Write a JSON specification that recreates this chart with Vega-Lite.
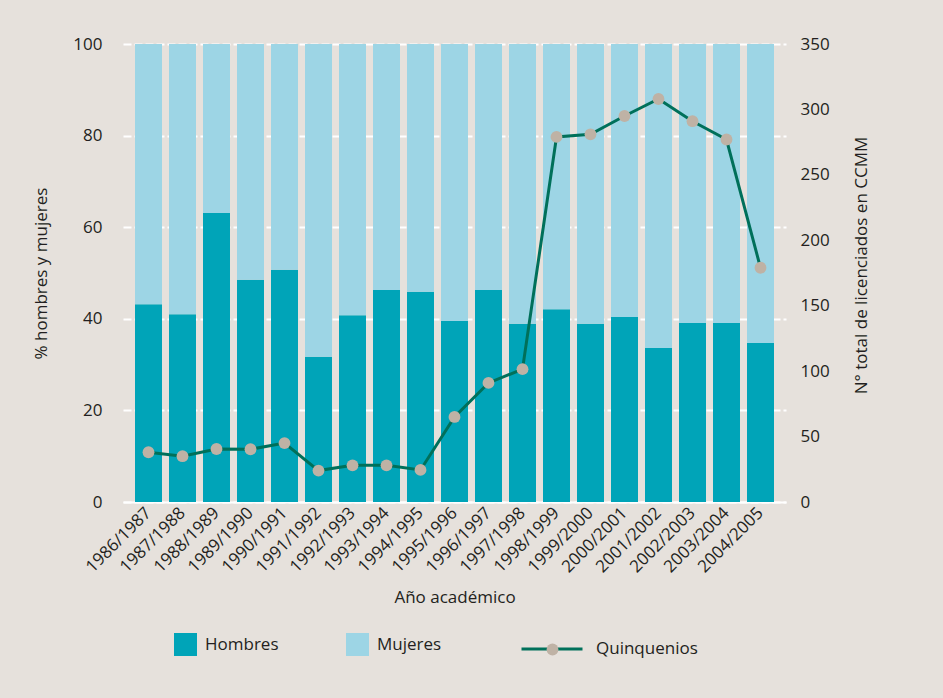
{
  "$schema": "https://vega.github.io/schema/vega-lite/v6.json",
  "autosize": {"type": "none"},
  "width": 663,
  "height": 458,
  "padding": {"left": 123, "top": 44, "right": 157, "bottom": 196},
  "background": "#e6e1dc",
  "config": {
    "font": "Open Sans",
    "view": {"stroke": null},
    "axis": {"labelFontSize": 17, "titleFontSize": 17, "titleFontWeight": "normal", "labelColor": "#231f20", "titleColor": "#231f20", "ticks": false, "domain": false},
    "legend": {"labelFontSize": 17, "labelColor": "#231f20", "padding": 0}
  },
  "datasets": {
    "pct": [
      {"curso": "1986/1987", "sexo": "Hombres", "pct": 43.2},
      {"curso": "1986/1987", "sexo": "Mujeres", "pct": 56.8},
      {"curso": "1987/1988", "sexo": "Hombres", "pct": 41.0},
      {"curso": "1987/1988", "sexo": "Mujeres", "pct": 59.0},
      {"curso": "1988/1989", "sexo": "Hombres", "pct": 63.1},
      {"curso": "1988/1989", "sexo": "Mujeres", "pct": 36.9},
      {"curso": "1989/1990", "sexo": "Hombres", "pct": 48.5},
      {"curso": "1989/1990", "sexo": "Mujeres", "pct": 51.5},
      {"curso": "1990/1991", "sexo": "Hombres", "pct": 50.7},
      {"curso": "1990/1991", "sexo": "Mujeres", "pct": 49.3},
      {"curso": "1991/1992", "sexo": "Hombres", "pct": 31.7},
      {"curso": "1991/1992", "sexo": "Mujeres", "pct": 68.3},
      {"curso": "1992/1993", "sexo": "Hombres", "pct": 40.8},
      {"curso": "1992/1993", "sexo": "Mujeres", "pct": 59.2},
      {"curso": "1993/1994", "sexo": "Hombres", "pct": 46.3},
      {"curso": "1993/1994", "sexo": "Mujeres", "pct": 53.7},
      {"curso": "1994/1995", "sexo": "Hombres", "pct": 45.9},
      {"curso": "1994/1995", "sexo": "Mujeres", "pct": 54.1},
      {"curso": "1995/1996", "sexo": "Hombres", "pct": 39.5},
      {"curso": "1995/1996", "sexo": "Mujeres", "pct": 60.5},
      {"curso": "1996/1997", "sexo": "Hombres", "pct": 46.3},
      {"curso": "1996/1997", "sexo": "Mujeres", "pct": 53.7},
      {"curso": "1997/1998", "sexo": "Hombres", "pct": 38.9},
      {"curso": "1997/1998", "sexo": "Mujeres", "pct": 61.1},
      {"curso": "1998/1999", "sexo": "Hombres", "pct": 42.1},
      {"curso": "1998/1999", "sexo": "Mujeres", "pct": 57.9},
      {"curso": "1999/2000", "sexo": "Hombres", "pct": 38.9},
      {"curso": "1999/2000", "sexo": "Mujeres", "pct": 61.1},
      {"curso": "2000/2001", "sexo": "Hombres", "pct": 40.4},
      {"curso": "2000/2001", "sexo": "Mujeres", "pct": 59.6},
      {"curso": "2001/2002", "sexo": "Hombres", "pct": 33.6},
      {"curso": "2001/2002", "sexo": "Mujeres", "pct": 66.4},
      {"curso": "2002/2003", "sexo": "Hombres", "pct": 39.1},
      {"curso": "2002/2003", "sexo": "Mujeres", "pct": 60.9},
      {"curso": "2003/2004", "sexo": "Hombres", "pct": 39.1},
      {"curso": "2003/2004", "sexo": "Mujeres", "pct": 60.9},
      {"curso": "2004/2005", "sexo": "Hombres", "pct": 34.7},
      {"curso": "2004/2005", "sexo": "Mujeres", "pct": 65.3}
    ],
    "quin": [
      {"curso": "1986/1987", "n": 38, "serie": "Quinquenios"},
      {"curso": "1987/1988", "n": 35, "serie": "Quinquenios"},
      {"curso": "1988/1989", "n": 40.5, "serie": "Quinquenios"},
      {"curso": "1989/1990", "n": 40.3, "serie": "Quinquenios"},
      {"curso": "1990/1991", "n": 45, "serie": "Quinquenios"},
      {"curso": "1991/1992", "n": 24, "serie": "Quinquenios"},
      {"curso": "1992/1993", "n": 28, "serie": "Quinquenios"},
      {"curso": "1993/1994", "n": 28, "serie": "Quinquenios"},
      {"curso": "1994/1995", "n": 24.5, "serie": "Quinquenios"},
      {"curso": "1995/1996", "n": 65, "serie": "Quinquenios"},
      {"curso": "1996/1997", "n": 91, "serie": "Quinquenios"},
      {"curso": "1997/1998", "n": 101.5, "serie": "Quinquenios"},
      {"curso": "1998/1999", "n": 279, "serie": "Quinquenios"},
      {"curso": "1999/2000", "n": 281, "serie": "Quinquenios"},
      {"curso": "2000/2001", "n": 295, "serie": "Quinquenios"},
      {"curso": "2001/2002", "n": 308, "serie": "Quinquenios"},
      {"curso": "2002/2003", "n": 291, "serie": "Quinquenios"},
      {"curso": "2003/2004", "n": 277, "serie": "Quinquenios"},
      {"curso": "2004/2005", "n": 179, "serie": "Quinquenios"}
    ]
  },
  "layer": [
    {
      "data": {"name": "pct"},
      "mark": {"type": "bar"},
      "encoding": {
        "x": {
          "field": "curso", "type": "nominal", "sort": null,
          "scale": {"paddingInner": 0.206, "paddingOuter": 0.353},
          "axis": {"title": "Año académico", "labelAngle": -45, "labelAlign": "right", "labelBaseline": "middle", "labelPadding": 8, "titlePadding": 14, "domain": true, "domainColor": "#ffffff", "domainWidth": 2}
        },
        "y": {
          "field": "pct", "type": "quantitative", "stack": "zero",
          "scale": {"domain": [0, 100], "nice": false},
          "axis": {"title": "% hombres y mujeres", "orient": "left", "values": [0, 20, 40, 60, 80, 100], "grid": true, "gridColor": "#ffffff", "gridWidth": 2, "gridDash": [8, 3], "labelPadding": 21, "titlePadding": 22}
        },
        "fill": {
          "field": "sexo", "type": "nominal",
          "scale": {"domain": ["Hombres", "Mujeres"], "range": ["#00a4b8", "#9dd5e5"]},
          "legend": {"title": null, "orient": "none", "legendX": 51, "legendY": 589, "direction": "horizontal", "symbolType": "square", "symbolSize": 529, "symbolStrokeWidth": 0, "labelOffset": 8, "columnPadding": 67}
        },
        "order": {"field": "sexo", "sort": "ascending"}
      }
    },
    {
      "data": {"name": "quin"},
      "encoding": {
        "x": {"field": "curso", "type": "nominal", "sort": null},
        "y": {
          "field": "n", "type": "quantitative",
          "scale": {"domain": [0, 350], "nice": false},
          "axis": {"title": "N° total de licenciados en CCMM", "orient": "right", "values": [0, 50, 100, 150, 200, 250, 300, 350], "grid": false, "labelPadding": 14, "titlePadding": 41, "titleAngle": -90, "titleY": 221}
        }
      },
      "layer": [
        {
          "mark": {"type": "line", "strokeWidth": 3},
          "encoding": {
            "stroke": {
              "field": "serie", "type": "nominal",
              "scale": {"range": ["#00705a"]},
              "legend": {"title": null, "orient": "none", "legendX": 397, "legendY": 573, "symbolType": "stroke", "symbolSize": 3721, "symbolStrokeWidth": 3, "labelOffset": 12}
            }
          }
        },
        {
          "mark": {"type": "point", "filled": true, "size": 140, "opacity": 1, "color": "#bfb2a5"},
          "encoding": {
            "shape": {
              "field": "serie", "type": "nominal",
              "scale": {"range": ["circle"]},
              "legend": {"title": null, "orient": "none", "legendX": 421, "legendY": 597, "symbolSize": 140, "symbolFillColor": "#bfb2a5", "symbolStrokeWidth": 0, "symbolOpacity": 1, "labelExpr": "''"}
            }
          }
        }
      ]
    }
  ],
  "resolve": {"scale": {"y": "independent"}}
}
